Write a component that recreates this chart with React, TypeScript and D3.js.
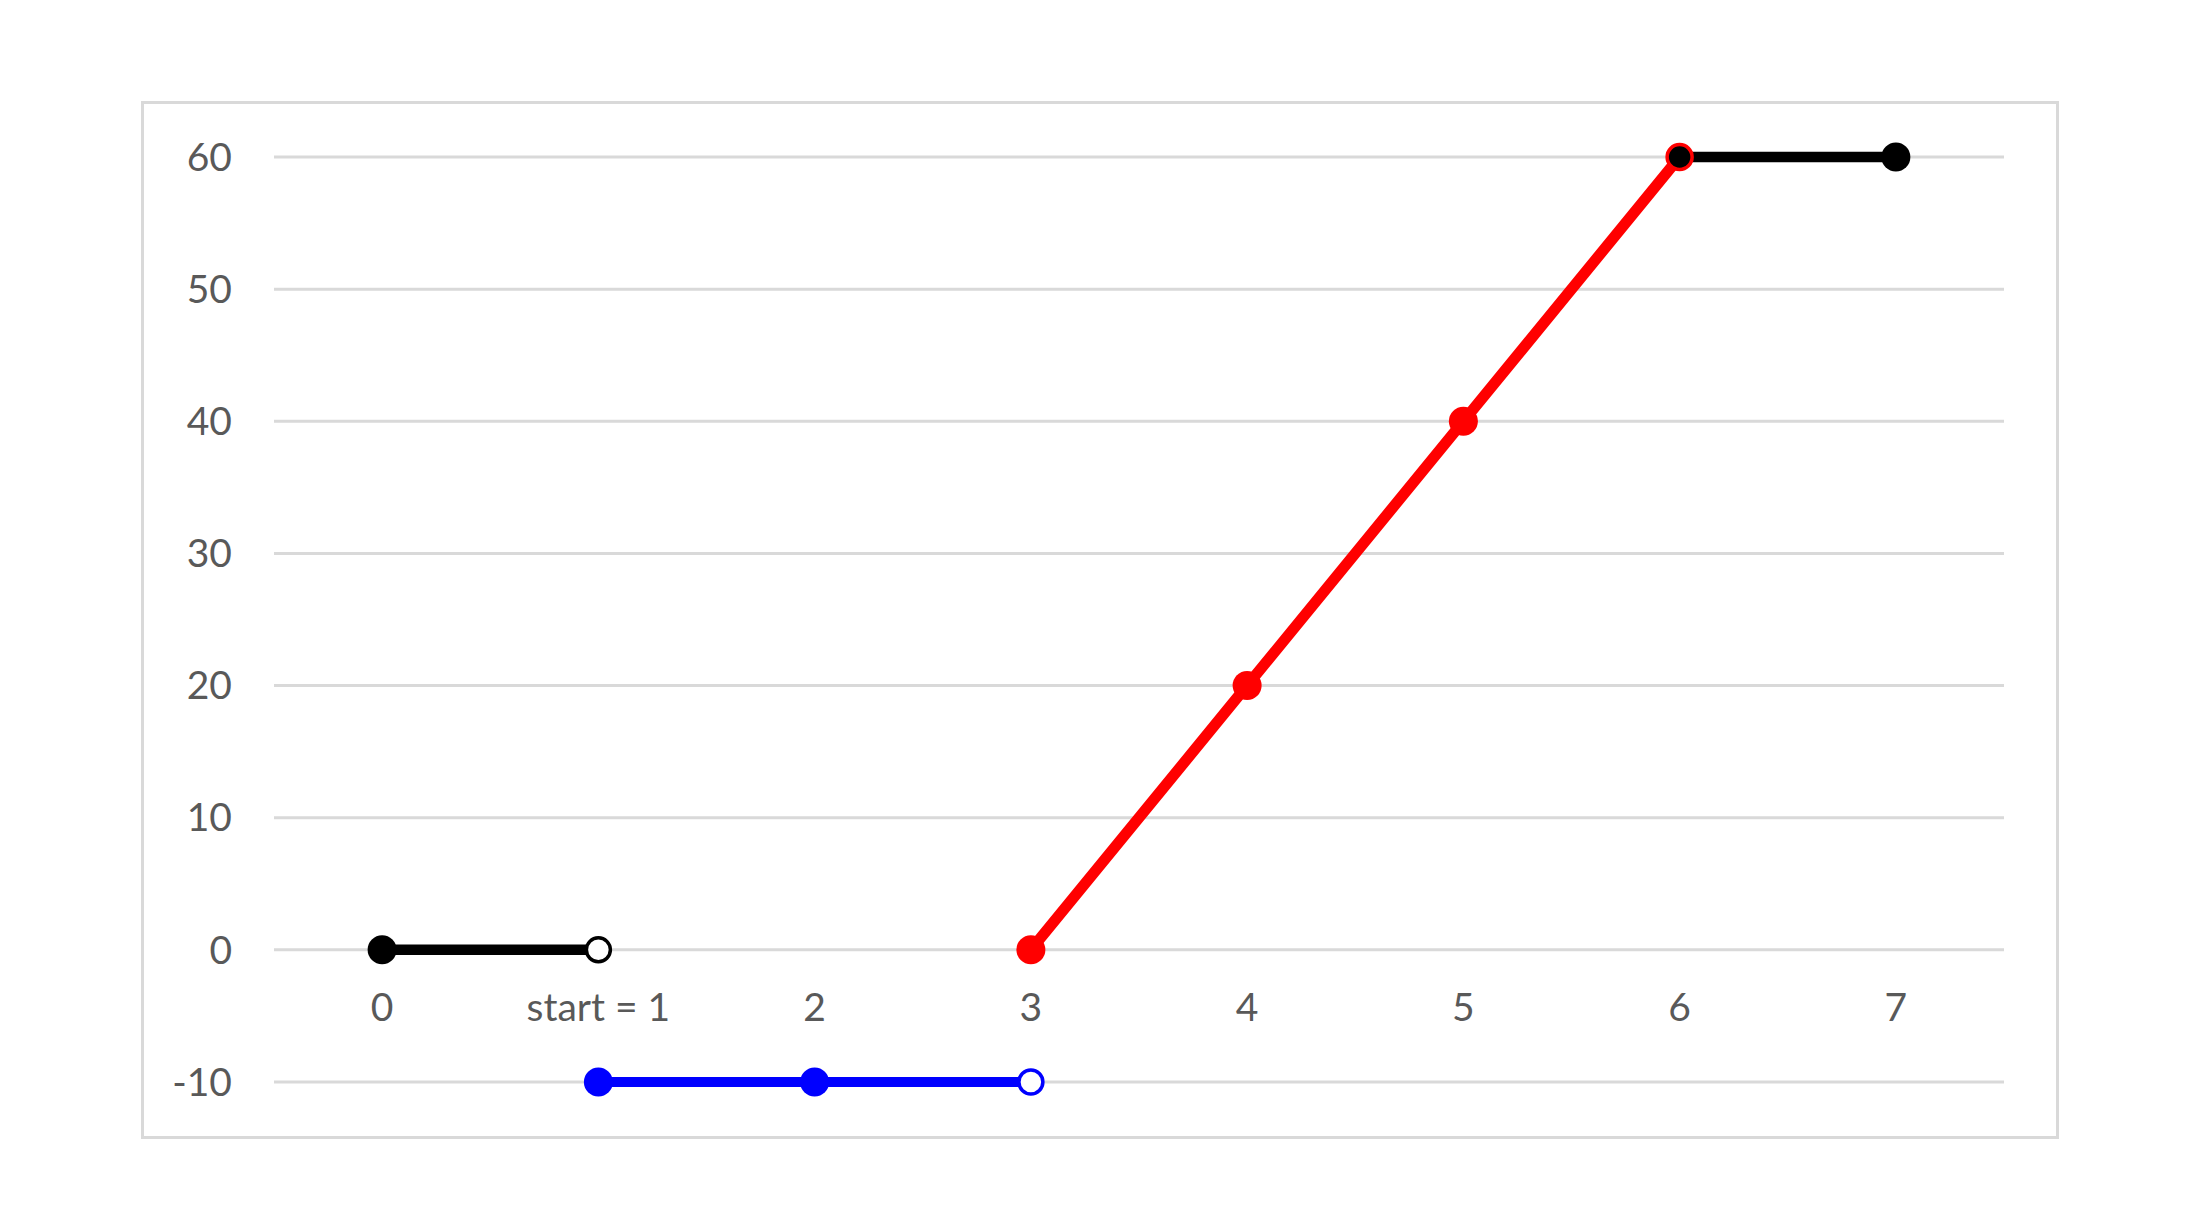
import React, { useEffect, useRef } from "react";
import * as d3 from "d3";

// category axis labels (one per band)
const categories = ["0", "start = 1", "2", "3", "4", "5", "6", "7"];
const yTicks = [-10, 0, 10, 20, 30, 40, 50, 60];

// series: index into categories, value, hollow marker?
const blackStart = [
  { i: 0, v: 0, hollow: false },
  { i: 1, v: 0, hollow: true },
];
const blackEnd = [
  { i: 6, v: 60, hollow: false },
  { i: 7, v: 60, hollow: false },
];
const blueSeries = [
  { i: 1, v: -10, hollow: false },
  { i: 2, v: -10, hollow: false },
  { i: 3, v: -10, hollow: true },
];
const redSeries = [
  { i: 3, v: 0, hollow: false },
  { i: 4, v: 20, hollow: false },
  { i: 5, v: 40, hollow: false },
  { i: 6, v: 60, hollow: false },
];

const width = 2200;
const height = 1230;

const App = () => {
  const svgRef = useRef<SVGSVGElement>(null);

  useEffect(() => {
    const svg = d3.select(svgRef.current);
    svg.selectAll("*").remove();

    const plot = { left: 274, right: 2004, top: 157, bottom: 1082 };
    const font = "Lato, 'Open Sans', sans-serif";
    const labelColor = "#595959";
    const gridColor = "#d9d9d9";

    const xScale = d3
      .scaleBand()
      .domain(categories)
      .range([plot.left, plot.right])
      .padding(0);

    const yScale = d3
      .scaleLinear()
      .domain([-10, 60])
      .range([plot.bottom, plot.top]);

    const xPos = (i: number) => xScale(categories[i])! + xScale.bandwidth() / 2;

    svg
      .append("rect")
      .attr("width", width)
      .attr("height", height)
      .attr("fill", "#fff");

    // outer chart border
    svg
      .append("rect")
      .attr("x", 142.5)
      .attr("y", 102.5)
      .attr("width", 1915)
      .attr("height", 1035)
      .attr("fill", "none")
      .attr("stroke", gridColor)
      .attr("stroke-width", 3);

    // gridlines
    svg
      .append("g")
      .selectAll("line")
      .data(yTicks)
      .enter()
      .append("line")
      .attr("x1", plot.left)
      .attr("x2", plot.right)
      .attr("y1", (d) => yScale(d))
      .attr("y2", (d) => yScale(d))
      .attr("stroke", gridColor)
      .attr("stroke-width", 3);

    // y labels
    svg
      .append("g")
      .selectAll("text")
      .data(yTicks)
      .enter()
      .append("text")
      .attr("x", 232)
      .attr("y", (d) => yScale(d))
      .attr("dy", "0.35em")
      .attr("text-anchor", "end")
      .style("font-family", font)
      .style("font-size", "39px")
      .attr("fill", labelColor)
      .text((d) => d);

    // x labels, hanging under the zero line
    svg
      .append("g")
      .selectAll("text")
      .data(categories)
      .enter()
      .append("text")
      .attr("x", (d) => xScale(d)! + xScale.bandwidth() / 2)
      .attr("y", yScale(0) + 57)
      .attr("dy", "0.35em")
      .attr("text-anchor", "middle")
      .style("font-family", font)
      .style("font-size", "39px")
      .attr("fill", labelColor)
      .text((d) => d);

    const line = d3
      .line<{ i: number; v: number }>()
      .x((d) => xPos(d.i))
      .y((d) => yScale(d.v));

    const drawLine = (data: any[], color: string, w: number) => {
      svg
        .append("path")
        .datum(data)
        .attr("d", line)
        .attr("fill", "none")
        .attr("stroke", color)
        .attr("stroke-width", w);
    };

    const drawMarkers = (data: any[], color: string) => {
      svg
        .append("g")
        .selectAll("circle")
        .data(data)
        .enter()
        .append("circle")
        .attr("cx", (d) => xPos(d.i))
        .attr("cy", (d) => yScale(d.v))
        .attr("r", (d) => (d.hollow ? 12 : 14.5))
        .attr("fill", (d) => (d.hollow ? "#fff" : color))
        .attr("stroke", color)
        .attr("stroke-width", (d) => (d.hollow ? 3.5 : 0));
    };

    drawLine(redSeries, "#ff0000", 11);
    drawLine(blackStart, "#000", 10.5);
    drawLine(blackEnd, "#000", 10.5);
    drawLine(blueSeries, "#0000ff", 10);

    drawMarkers(redSeries.slice(0, 3), "#ff0000");
    drawMarkers(blackStart, "#000");
    drawMarkers(blueSeries, "#0000ff");

    // point at 6 shared by red and black
    svg
      .append("circle")
      .attr("cx", xPos(6))
      .attr("cy", yScale(60))
      .attr("r", 12.5)
      .attr("fill", "#000")
      .attr("stroke", "#ff0000")
      .attr("stroke-width", 3.5);
    drawMarkers(blackEnd.slice(1), "#000");
  }, []);

  return (
    <div style={{ position: "absolute", left: 0, top: 0 }}>
      <svg ref={svgRef} width={width} height={height} style={{ display: "block" }}></svg>
    </div>
  );
};

export default App;
